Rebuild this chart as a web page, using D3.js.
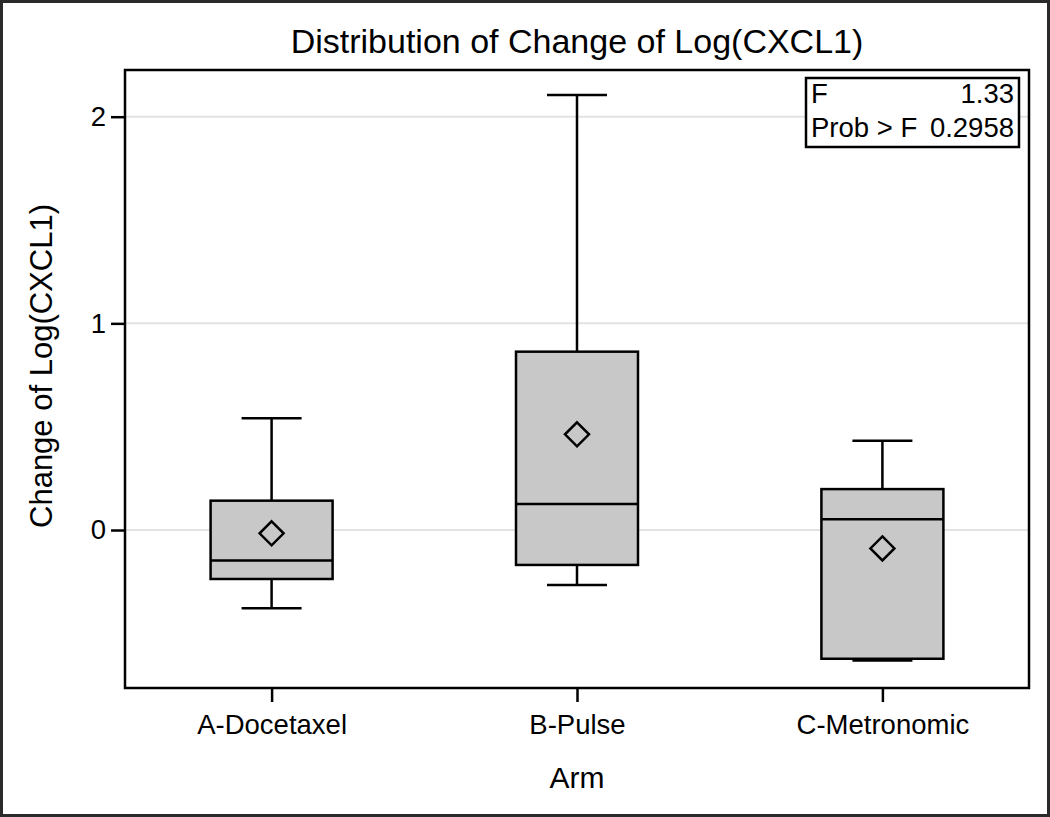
<!DOCTYPE html>
<html>
<head>
<meta charset="utf-8">
<script src="https://d3js.org/d3.v7.min.js"></script>
<style>
  body { margin: 0; background: #fff; }
  text { font-family: "Liberation Sans", Arial, sans-serif; fill: #000; }
</style>
</head>
<body>
<div id="chart"></div>
<script>
// data
var arms = ["A-Docetaxel", "B-Pulse", "C-Metronomic"];
var whiskerLow  = [-0.379, -0.266, -0.631];
var q1          = [-0.237, -0.169, -0.623];
var median      = [-0.147,  0.126,  0.052];
var q3          = [ 0.142,  0.863,  0.198];
var whiskerHigh = [ 0.541,  2.105,  0.432];
var means       = [-0.016,  0.463, -0.089];
var yTicks = [0, 1, 2];
var statLabels = ["F", "Prob > F"];
var statValues = ["1.33", "0.2958"];

var width = 1050, height = 817;
var margin = {top: 70, right: 21, bottom: 129, left: 125};
var plotW = width - margin.left - margin.right,
    plotH = height - margin.top - margin.bottom;

var svg = d3.select("#chart").append("svg")
    .attr("width", width)
    .attr("height", height);

// outer border
svg.append("rect")
    .attr("x", 1.5).attr("y", 1.5)
    .attr("width", width - 3).attr("height", height - 3)
    .attr("fill", "#fff")
    .attr("stroke", "#2a2a2a")
    .attr("stroke-width", 3);

var x = d3.scalePoint()
    .domain(arms)
    .range([0, plotW])
    .padding(0.48);

var y = d3.scaleLinear()
    .domain([-0.7645, 2.226])
    .range([plotH, 0]);

var g = svg.append("g")
    .attr("transform", "translate(" + margin.left + "," + margin.top + ")");

// gridlines
g.selectAll(".grid")
    .data(yTicks)
  .enter().append("line")
    .attr("class", "grid")
    .attr("x1", 0).attr("x2", plotW)
    .attr("y1", function(d) { return y(d); })
    .attr("y2", function(d) { return y(d); })
    .attr("stroke", "#e3e3e3")
    .attr("stroke-width", 2);

var rows = arms.map(function(a, i) {
  return {arm: a, lo: whiskerLow[i], q1: q1[i], med: median[i], q3: q3[i], hi: whiskerHigh[i], mean: means[i]};
});

var boxW = 122, capW = 60, lw = 2.5;

var box = g.selectAll(".box")
    .data(rows)
  .enter().append("g")
    .attr("class", "box")
    .attr("transform", function(d) { return "translate(" + x(d.arm) + ",0)"; });

// whiskers
box.append("line")
    .attr("x1", 0).attr("x2", 0)
    .attr("y1", function(d) { return y(d.hi); })
    .attr("y2", function(d) { return y(d.q3); })
    .attr("stroke", "#000").attr("stroke-width", lw);
box.append("line")
    .attr("x1", 0).attr("x2", 0)
    .attr("y1", function(d) { return y(d.q1); })
    .attr("y2", function(d) { return y(d.lo); })
    .attr("stroke", "#000").attr("stroke-width", lw);

box.append("rect")
    .attr("x", -boxW / 2)
    .attr("width", boxW)
    .attr("y", function(d) { return y(d.q3); })
    .attr("height", function(d) { return y(d.q1) - y(d.q3); })
    .attr("fill", "#c8c8c8")
    .attr("stroke", "#000")
    .attr("stroke-width", lw);

// caps
box.selectAll(".cap")
    .data(function(d) { return [d.hi, d.lo]; })
  .enter().append("line")
    .attr("class", "cap")
    .attr("x1", -capW / 2).attr("x2", capW / 2)
    .attr("y1", function(v) { return y(v); })
    .attr("y2", function(v) { return y(v); })
    .attr("stroke", "#000").attr("stroke-width", lw);

// median
box.append("line")
    .attr("x1", -boxW / 2).attr("x2", boxW / 2)
    .attr("y1", function(d) { return y(d.med); })
    .attr("y2", function(d) { return y(d.med); })
    .attr("stroke", "#000").attr("stroke-width", lw);

// mean diamond
var dm = 12;
box.append("path")
    .attr("d", function(d) {
      var cy = y(d.mean);
      return "M0," + (cy - dm) + "L" + dm + "," + cy + "L0," + (cy + dm) + "L" + (-dm) + "," + cy + "Z";
    })
    .attr("fill", "none")
    .attr("stroke", "#000")
    .attr("stroke-width", lw);

// frame
g.append("rect")
    .attr("x", 0).attr("y", 0)
    .attr("width", plotW).attr("height", plotH)
    .attr("fill", "none")
    .attr("stroke", "#000")
    .attr("stroke-width", lw);

// axes
var yAxis = g.append("g")
    .call(d3.axisLeft(y).tickValues(yTicks).tickFormat(d3.format("d")).tickSize(14).tickPadding(5));
var xAxis = g.append("g")
    .attr("transform", "translate(0," + plotH + ")")
    .call(d3.axisBottom(x).tickSize(14).tickPadding(12));

[yAxis, xAxis].forEach(function(ax) {
  ax.select(".domain").remove();
  ax.selectAll(".tick line").attr("stroke", "#000").attr("stroke-width", lw);
  ax.selectAll(".tick text")
      .style("font-family", "'Liberation Sans', Arial, sans-serif")
      .style("font-size", "27.5px")
      .attr("fill", "#000");
});

// titles
svg.append("text")
    .attr("x", margin.left + plotW / 2)
    .attr("y", 53)
    .attr("text-anchor", "middle")
    .style("font-size", "34px")
    .text("Distribution of Change of Log(CXCL1)");

svg.append("text")
    .attr("x", margin.left + plotW / 2)
    .attr("y", 788)
    .attr("text-anchor", "middle")
    .style("font-size", "30px")
    .text("Arm");

svg.append("text")
    .attr("transform", "translate(52,366) rotate(-90)")
    .attr("text-anchor", "middle")
    .style("font-size", "31px")
    .text("Change of Log(CXCL1)");

// stats inset
var inset = svg.append("g");
inset.append("rect")
    .attr("x", 806).attr("y", 78)
    .attr("width", 213).attr("height", 69)
    .attr("fill", "#fff")
    .attr("stroke", "#000")
    .attr("stroke-width", lw);
inset.selectAll(".slab")
    .data(statLabels)
  .enter().append("text")
    .attr("x", 811)
    .attr("y", function(d, i) { return 103 + i * 34; })
    .style("font-size", "27.5px")
    .text(function(d) { return d; });
inset.selectAll(".sval")
    .data(statValues)
  .enter().append("text")
    .attr("x", 1014)
    .attr("y", function(d, i) { return 103 + i * 34; })
    .attr("text-anchor", "end")
    .style("font-size", "27.5px")
    .text(function(d) { return d; });
</script>
</body>
</html>
